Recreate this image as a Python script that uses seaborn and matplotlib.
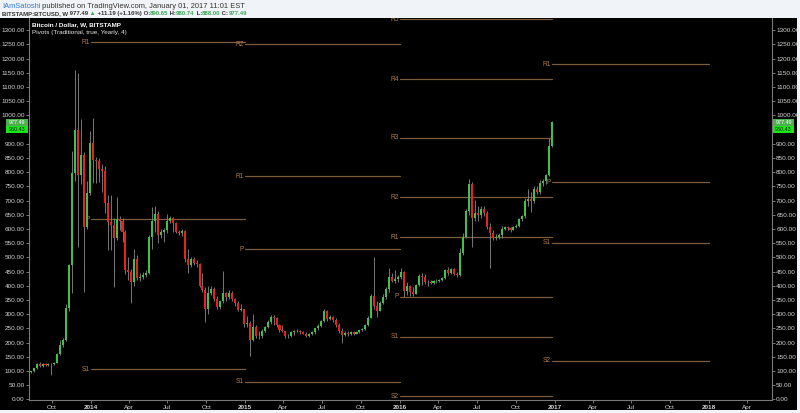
import numpy as np
import pandas as pd
import matplotlib
matplotlib.use("Agg")
import matplotlib.pyplot as plt
import matplotlib.dates as mdates
import matplotlib.transforms as mtransforms
from matplotlib.patches import Rectangle
from matplotlib.ticker import FormatStrFormatter
import seaborn as sns

# weekly candles (open, high, low, close); first bar is the week of 2013-08-12
first_week = "2013-08-12"

ohlc_2013 = [
    (95, 101, 92, 99), (99, 112, 97, 110), (110, 127, 108, 125), (125, 131, 113, 117),
    (117, 130, 115, 126), (126, 128, 118, 122), (122, 128, 118, 124), (124, 129, 85, 123),
    (123, 131, 120, 129), (129, 165, 127, 160), (160, 210, 158, 190), (190, 215, 185, 208),
    (208, 335, 205, 322), (322, 477, 310, 473), (473, 873, 375, 797), (797, 1160, 770, 949),
    (949, 1150, 538, 790), (790, 988, 760, 861), (861, 870, 380, 608), (608, 768, 600, 727),
]

ohlc_2014 = [
    (727, 946, 720, 903), (903, 992, 762, 844), (844, 855, 762, 838), (838, 850, 765, 812),
    (812, 830, 730, 805), (805, 822, 655, 690), (690, 720, 526, 625), (625, 720, 526, 615),
    (615, 640, 397, 568), (568, 713, 560, 636), (636, 645, 595, 628), (628, 640, 555, 590),
    (590, 595, 440, 456), (456, 500, 420, 450), (450, 460, 340, 415), (415, 530, 400, 495),
    (495, 510, 420, 428), (428, 445, 418, 432), (432, 448, 425, 438), (438, 455, 430, 445),
    (445, 580, 440, 573), (573, 677, 530, 630), (630, 680, 590, 652), (652, 665, 550, 580),
    (580, 600, 570, 590), (590, 605, 554, 596), (596, 652, 585, 630), (630, 645, 620, 638),
    (638, 642, 590, 620), (620, 625, 585, 590), (590, 598, 580, 586), (586, 600, 575, 592),
    (592, 595, 485, 495), (495, 530, 444, 475), (475, 500, 465, 495), (495, 500, 475, 480),
    (480, 490, 465, 476), (476, 480, 395, 400), (400, 445, 380, 385), (385, 395, 274, 320),
    (320, 400, 300, 375), (375, 398, 368, 390), (390, 395, 345, 355), (355, 365, 320, 325),
    (325, 350, 320, 345), (345, 452, 340, 375), (375, 380, 345, 362), (362, 385, 355, 375),
    (375, 382, 345, 352), (352, 358, 330, 340), (340, 345, 310, 315), (315, 335, 310, 318),
]

ohlc_2015 = [
    (318, 320, 255, 265), (265, 292, 255, 270), (270, 275, 152, 210), (210, 300, 205, 254),
    (254, 262, 215, 225), (225, 240, 212, 222), (222, 248, 218, 242), (242, 258, 236, 255),
    (255, 278, 250, 272), (272, 298, 265, 291), (291, 296, 262, 285), (285, 290, 255, 262),
    (262, 265, 238, 245), (245, 262, 236, 240), (240, 242, 215, 222), (222, 232, 218, 225),
    (225, 240, 220, 236), (236, 246, 228, 242), (242, 248, 236, 240), (240, 245, 232, 238),
    (238, 242, 230, 232), (232, 236, 220, 224), (224, 235, 220, 232), (232, 240, 228, 236),
    (236, 252, 232, 250), (250, 265, 245, 260), (260, 278, 255, 275), (275, 318, 272, 310),
    (310, 315, 276, 283), (283, 298, 278, 290), (290, 295, 274, 278), (278, 285, 256, 262),
    (262, 268, 235, 240), (240, 250, 198, 226), (226, 240, 222, 235), (235, 240, 225, 230),
    (230, 242, 228, 238), (238, 242, 226, 232), (232, 240, 230, 236), (236, 246, 234, 244),
    (244, 252, 240, 248), (248, 265, 245, 262), (262, 295, 258, 288), (288, 370, 285, 365),
    (365, 502, 318, 330), (330, 345, 291, 312), (312, 345, 310, 340), (340, 370, 335, 362),
    (362, 395, 355, 390), (390, 462, 380, 432), (432, 445, 412, 418), (418, 455, 410, 425),
]

ohlc_2016 = [
    (425, 438, 415, 432), (432, 462, 425, 448), (448, 452, 362, 382), (382, 412, 368, 400),
    (400, 402, 365, 378), (378, 396, 365, 372), (372, 405, 370, 402), (402, 440, 398, 436),
    (436, 445, 404, 432), (432, 440, 405, 412), (412, 420, 398, 415), (415, 420, 405, 410),
    (410, 420, 405, 416), (416, 424, 410, 418), (418, 424, 412, 420), (420, 430, 418, 428),
    (428, 460, 425, 456), (456, 466, 438, 445), (445, 462, 440, 458), (458, 462, 438, 442),
    (442, 448, 432, 438), (438, 532, 435, 515), (515, 585, 510, 572), (572, 670, 568, 665),
    (665, 775, 650, 760), (760, 765, 538, 640), (640, 703, 630, 658), (658, 680, 630, 650),
    (650, 680, 640, 672), (672, 680, 645, 655), (655, 662, 600, 608), (608, 620, 462, 585),
    (585, 595, 560, 568), (568, 582, 562, 572), (572, 585, 565, 578), (578, 612, 570, 600),
    (600, 612, 595, 606), (606, 612, 598, 602), (602, 608, 590, 598), (598, 612, 595, 608),
    (608, 618, 603, 612), (612, 640, 608, 636), (636, 650, 628, 645), (645, 708, 640, 700),
    (700, 740, 680, 705), (705, 731, 660, 698), (698, 752, 690, 740), (740, 752, 725, 732),
    (732, 772, 725, 762), (762, 775, 752, 768), (768, 795, 760, 790), (790, 920, 788, 890.65),
    (890.65, 980.74, 888.00, 977.49),
]

# yearly pivot levels
pivot_starts = ["2014-01-01", "2015-01-01", "2016-01-01", "2016-12-26"]
pivot_ends = ["2015-01-01", "2016-01-01", "2016-12-26", "2018-01-01"]
pivot_names = [
    ["R1", "P", "S1"],
    ["R2", "R1", "P", "S1"],
    ["R5", "R4", "R3", "R2", "R1", "P", "S1", "S2"],
    ["R1", "P", "S1", "S2"],
]
pivot_values = [
    [1257, 635, 107],
    [1250, 785, 529, 63],
    [1338, 1128, 921, 711, 571, 362, 221, 12],
    [1180, 765, 552, 137],
]

# 950.00 sits under the price tags, so it is not shown
y_ticks = [0, 50, 100, 150, 200, 250, 300, 350, 400, 450, 500, 550, 600, 650,
           700, 750, 800, 850, 900, 1000, 1050, 1100, 1150, 1200, 1250, 1300]
x_tick_dates = ["2013-10-01", "2014-01-01", "2014-04-01", "2014-07-01", "2014-10-01",
                "2015-01-01", "2015-04-01", "2015-07-01", "2015-10-01",
                "2016-01-01", "2016-04-01", "2016-07-01", "2016-10-01",
                "2017-01-01", "2017-04-01", "2017-07-01", "2017-10-01",
                "2018-01-01", "2018-04-01"]
x_tick_labels = ["Oct", "2014", "Apr", "Jul", "Oct", "2015", "Apr", "Jul", "Oct",
                 "2016", "Apr", "Jul", "Oct", "2017", "Apr", "Jul", "Oct", "2018", "Apr"]

last_price = "977.49"
marker_price = "960.43"

W, H = 800, 413
GREEN = "#41c14a"
RED = "#e8231d"
WICK = "#8a8a8a"
PIVOT_LINE = "#7d5b3d"
PIVOT_TEXT = "#b27b4d"
AXIS_TEXT = "#d4d4d4"


def fx(px):
    return px / W


def fy(py):
    return 1 - py / H


def draw_runs(fig, x_px, y_px, runs, size):
    # colored text pieces placed one after another
    renderer = fig.canvas.get_renderer()
    x = fx(x_px)
    for text, color, weight in runs:
        t = fig.text(x, fy(y_px), text, color=color, fontsize=size,
                     fontweight=weight, ha="left", va="center")
        x += t.get_window_extent(renderer=renderer).width / fig.bbox.width


sns.set_style("dark", {"axes.facecolor": "black", "figure.facecolor": "#f0f3f7"})
plt.rcParams["font.family"] = ["Liberation Sans", "DejaVu Sans"]

candles = pd.DataFrame(ohlc_2013 + ohlc_2014 + ohlc_2015 + ohlc_2016,
                       columns=["open", "high", "low", "close"])
candles["date"] = pd.date_range(first_week, periods=len(candles), freq="7D")
candles["x"] = mdates.date2num(candles["date"])
up = candles["close"] >= candles["open"]

fig = plt.figure(figsize=(8, 4.13), dpi=100)
fig.patch.set_facecolor("#f0f3f7")
fig.add_artist(Rectangle((0, fy(410)), fx(797), fy(18) - fy(410),
                         transform=fig.transFigure, facecolor="black",
                         edgecolor="none", zorder=-1))
ax = fig.add_axes([fx(29), fy(400), fx(772) - fx(29), fy(18) - fy(400)])
ax.set_facecolor("black")

# pivot segments
seg_rows = []
for k in range(len(pivot_starts)):
    x0 = mdates.date2num(pd.Timestamp(pivot_starts[k]))
    x1 = mdates.date2num(pd.Timestamp(pivot_ends[k]))
    for name, value in zip(pivot_names[k], pivot_values[k]):
        seg = f"{k}-{name}"
        seg_rows.append({"seg": seg, "x": x0, "level": value})
        seg_rows.append({"seg": seg, "x": x1, "level": value})
seg_df = pd.DataFrame(seg_rows)
sns.lineplot(data=seg_df, x="x", y="level", units="seg", estimator=None,
             color=PIVOT_LINE, linewidth=0.9, legend=False, ax=ax, zorder=1)

label_tf = mtransforms.offset_copy(ax.transData, fig=fig, x=-0.8, y=0, units="points")
for k in range(len(pivot_starts)):
    x0 = mdates.date2num(pd.Timestamp(pivot_starts[k]))
    for name, value in zip(pivot_names[k], pivot_values[k]):
        ax.text(x0, value, name, transform=label_tf, ha="right", va="center",
                fontsize=4.8, color=PIVOT_TEXT, zorder=1.5, clip_on=True)

# candles
ax.vlines(candles["x"], candles["low"], candles["high"], color=WICK,
          linewidth=0.6, zorder=2)
body_bottom = np.minimum(candles["open"], candles["close"])
body_height = np.maximum((candles["close"] - candles["open"]).abs(), 2.5)
ax.bar(candles["x"], body_height, bottom=body_bottom, width=4.8,
       color=np.where(up, GREEN, RED), linewidth=0, zorder=3)

ax.set_xlim(mdates.date2num(pd.Timestamp("2013-08-08")),
            mdates.date2num(pd.Timestamp("2018-05-30")))
ax.set_ylim(-2, 1343)
ax.set_xlabel("")
ax.set_ylabel("")
ax.grid(False)

ax.set_yticks(y_ticks)
ax.yaxis.set_major_formatter(FormatStrFormatter("%.2f"))
ax.tick_params(axis="y", left=True, right=True, labelleft=True, labelright=True,
               length=2, width=0.6, color="#8c8c8c", labelcolor=AXIS_TEXT,
               labelsize=4.6, pad=1)
ax.set_xticks([mdates.date2num(pd.Timestamp(d)) for d in x_tick_dates])
ax.set_xticklabels(x_tick_labels)
ax.tick_params(axis="x", bottom=True, length=2, width=0.6, color="#8c8c8c",
               labelcolor=AXIS_TEXT, labelsize=4.6, pad=1.5)
for lbl in ax.get_xticklabels():
    if lbl.get_text().isdigit():
        lbl.set_fontweight("bold")

for side in ["left", "right", "bottom"]:
    ax.spines[side].set_color("#7a7a7a")
    ax.spines[side].set_linewidth(0.8)
ax.spines["top"].set_visible(False)

# price tags on both scales
for x0, w in [(6, 22), (773, 21)]:
    fig.add_artist(Rectangle((fx(x0), fy(126)), fx(w), fy(119.3) - fy(126),
                             transform=fig.transFigure, facecolor="#4caf50",
                             edgecolor="none", zorder=5))
    fig.text(fx(x0 + w / 2), fy(122.6), last_price, color="white", fontsize=3.9,
             ha="center", va="center", zorder=6)
    fig.add_artist(Rectangle((fx(x0), fy(133)), fx(w), fy(126) - fy(133),
                             transform=fig.transFigure, facecolor="#19e619",
                             edgecolor="none", zorder=5))
    fig.text(fx(x0 + w / 2), fy(129.7), marker_price, color="#1a1a1a", fontsize=3.9,
             ha="center", va="center", zorder=6)

# chart captions
fig.text(fx(32), fy(24.5), "Bitcoin / Dollar, W, BITSTAMP", color="white",
         fontsize=4.6, fontweight="bold", va="center")
fig.text(fx(32), fy(32.5), "Pivots (Traditional, true, Yearly, 4)", color="#e6e6e6",
         fontsize=4.6, va="center")

# header
dark = "#333333"
val = "#3aa655"
draw_runs(fig, 2, 6, [("IAmSatoshi", "#2f7bd9", "normal"),
                      (" published on TradingView.com, January 01, 2017 11:01 EST", dark, "normal")], 5.4)
draw_runs(fig, 2, 13.8, [("BITSTAMP:BTCUSD, W", dark, "bold"),
                         (" 977.49", dark, "bold"),
                         (" \u25b2", val, "bold"),
                         (" +11.19 (+1.16%)", dark, "bold"),
                         (" O:", dark, "bold"), ("890.65", val, "bold"),
                         (" H:", dark, "bold"), ("980.74", val, "bold"),
                         (" L:", dark, "bold"), ("888.00", val, "bold"),
                         (" C:", dark, "bold"), ("977.49", val, "bold")], 4.3)

fig.savefig("out.png", dpi=100, facecolor=fig.get_facecolor())
